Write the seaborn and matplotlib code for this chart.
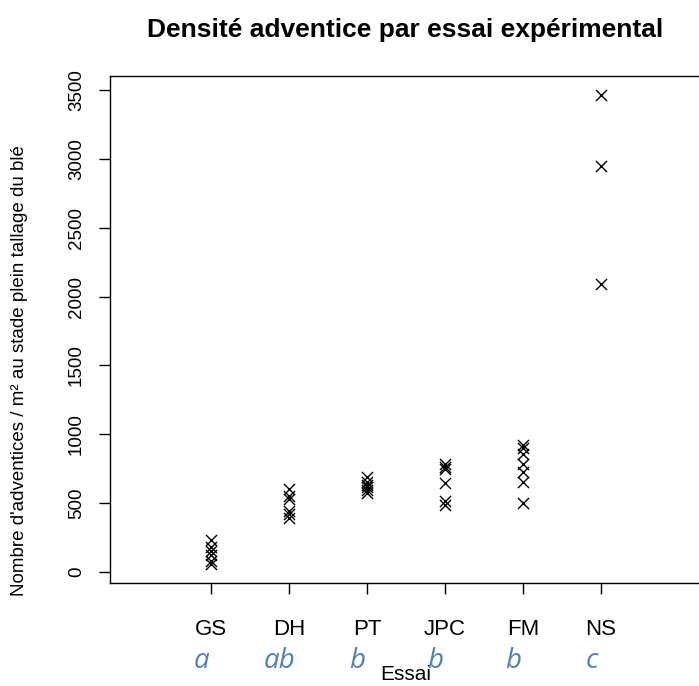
import numpy as np
import pandas as pd
import matplotlib
matplotlib.use('Agg')
import matplotlib.pyplot as plt
import seaborn as sns

essais = ['GS', 'DH', 'PT', 'JPC', 'FM', 'NS']
lettres = ['a', 'ab', 'b', 'b', 'b', 'c']

gs = [230, 180, 150, 120, 80, 60]
dh = [600, 555, 530, 445, 420, 395]
pt = [690, 650, 630, 615, 595, 570]
jpc = [785, 765, 745, 645, 515, 485]
fm = [920, 900, 860, 785, 725, 650, 500]
ns = [3465, 2945, 2090]

valeurs = [gs, dh, pt, jpc, fm, ns]
df = pd.DataFrame({
    'Essai': np.concatenate([[e] * len(v) for e, v in zip(essais, valeurs)]),
    'Densite': np.concatenate(valeurs),
})

sns.set_style('white')
plt.rcParams['font.family'] = ['Liberation Sans', 'DejaVu Sans']
plt.rcParams['text.color'] = 'black'
plt.rcParams['axes.labelcolor'] = 'black'
plt.rcParams['xtick.color'] = 'black'
plt.rcParams['ytick.color'] = 'black'

fig = plt.figure(figsize=(6.99, 6.86), dpi=100)
ax = fig.add_axes([110 / 699, 1 - 583 / 686, 590 / 699, (583 - 76) / 686])

sns.stripplot(data=df, x='Essai', y='Densite', order=essais, jitter=False,
              marker='x', color='black', s=8, linewidth=1, ax=ax)

ax.set_xlim(-1.295, 6.27)
ax.set_ylim(-80, 3602)
ax.set_yticks([0, 500, 1000, 1500, 2000, 2500, 3000, 3500])
ax.set_yticklabels(['0', '500', '1000', '1500', '2000', '2500', '3000', '3500'],
                   rotation=90, va='center', fontsize=13.5)
ax.set_xticks(range(len(essais)))
ax.set_xticklabels(essais, fontsize=16)
ax.tick_params(axis='both', direction='out', length=8, width=1, color='black',
               bottom=True, left=True)
ax.tick_params(axis='x', pad=18)
ax.tick_params(axis='y', pad=10)
for sp in ax.spines.values():
    sp.set_color('black')
    sp.set_linewidth(1)

# lettres de groupes (posées à la main, un peu à gauche des ticks)
for i, l in enumerate(lettres):
    ax.text(i - 0.12, -0.153, l, transform=ax.get_xaxis_transform(), ha='center',
            va='center', fontsize=20, style='italic', color='#4f81bd',
            family=['Open Sans', 'DejaVu Sans'])

ax.set_xlabel('Essai', fontsize=15)
ax.xaxis.label.set_va('center')
ax.xaxis.set_label_coords((406 - 110) / 590, -(675 - 583) / 507)
ax.set_ylabel("Nombre d'adventices / m² au stade plein tallage du blé",
              fontsize=13.5)
ax.yaxis.label.set_va('center')
ax.yaxis.set_label_coords((20 - 110) / 590, (583 - 371) / 507)

fig.text(405 / 699, 1 - 30 / 686, 'Densité adventice par essai expérimental',
         ha='center', va='center', fontsize=19, fontweight='bold')

fig.savefig('out.png', dpi=100)
